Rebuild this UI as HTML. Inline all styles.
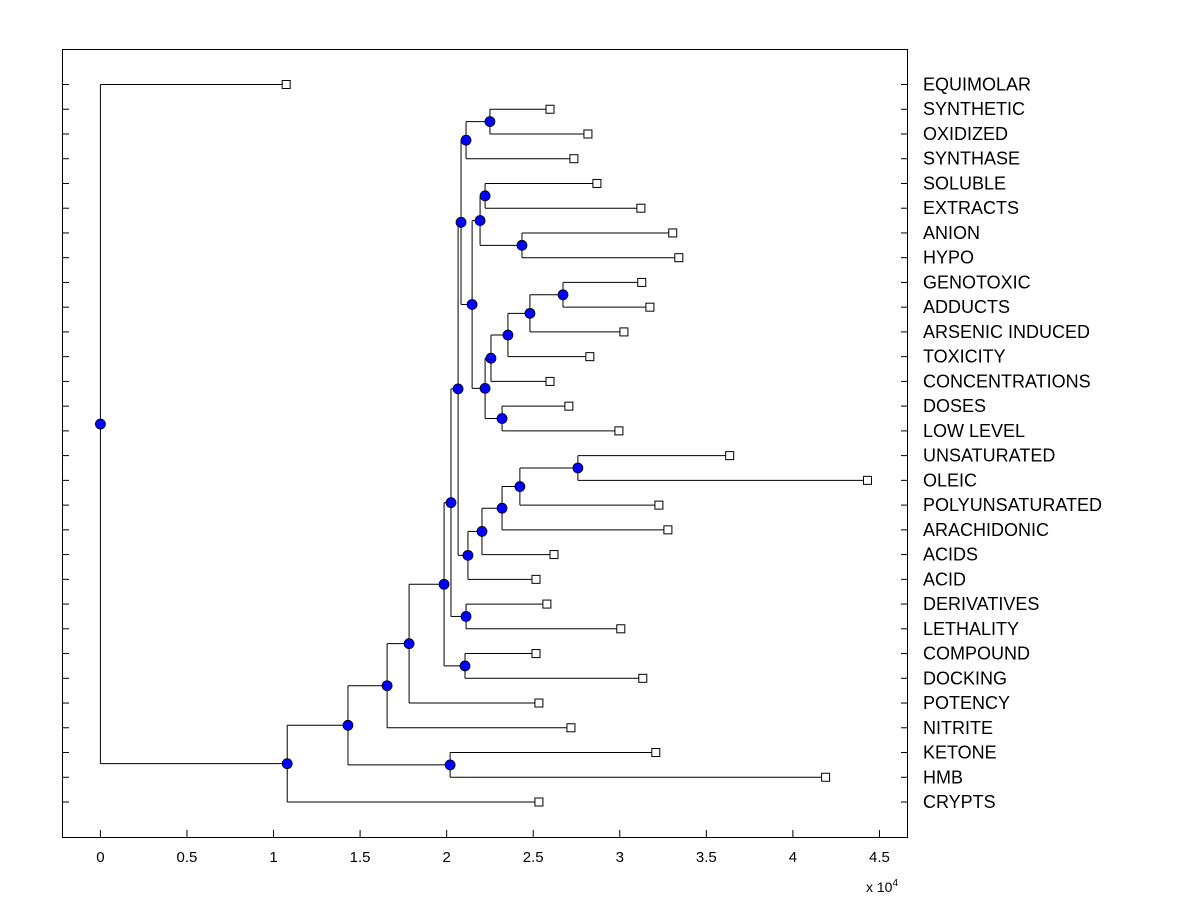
<!DOCTYPE html>
<html><head><meta charset="utf-8">
<style>
html,body{margin:0;padding:0;background:#fff;}
svg text{font-family:"Liberation Sans",Arial,sans-serif;}
</style></head>
<body>
<svg id="chart" width="1200" height="900" viewBox="0 0 1200 900" xmlns="http://www.w3.org/2000/svg">
<rect x="0" y="0" width="1200" height="900" fill="#fff"/>
<rect x="62.5" y="49.5" width="845" height="788" fill="#fff" stroke="#000" stroke-width="1"/>
<g id="ticks"></g>
<g id="links"></g>
<g id="marks"></g>
<g id="labels"></g>
<text x="866" y="892" font-size="14">x 10<tspan dy="-6" font-size="10">4</tspan></text>
</svg>
<script>
const leafNames = ["EQUIMOLAR","SYNTHETIC","OXIDIZED","SYNTHASE","SOLUBLE","EXTRACTS","ANION","HYPO","GENOTOXIC","ADDUCTS","ARSENIC INDUCED","TOXICITY","CONCENTRATIONS","DOSES","LOW LEVEL","UNSATURATED","OLEIC","POLYUNSATURATED","ARACHIDONIC","ACIDS","ACID","DERIVATIVES","LETHALITY","COMPOUND","DOCKING","POTENCY","NITRITE","KETONE","HMB","CRYPTS"];
const leafValues = [1.073,2.597,2.816,2.735,2.868,3.122,3.306,3.341,3.127,3.174,3.024,2.827,2.597,2.706,2.995,3.635,4.431,3.226,3.278,2.620,2.516,2.579,3.006,2.516,3.133,2.533,2.718,3.208,4.189,2.533];
const mergeLeft  = ["L1","N0","L4","L6","N2","L8","N5","N6","N7","L13","N8","N4","N1","L15","N13","N14","N15","N16","N12","L21","N18","L23","N20","N22","N23","L27","N24","N26","L0"];
const mergeRight = ["L2","L3","L5","L7","N3","L9","L10","L11","L12","L14","N9","N10","N11","L16","L17","L18","L19","L20","N17","L22","N19","L24","N21","L25","L26","L28","N25","L29","N27"];
const mergeHeights = [2.250,2.112,2.222,2.435,2.193,2.672,2.481,2.354,2.256,2.320,2.222,2.147,2.083,2.758,2.423,2.320,2.204,2.123,2.066,2.112,2.025,2.106,1.985,1.783,1.656,2.020,1.430,1.079,0];
const xTicks = [0,0.5,1,1.5,2,2.5,3,3.5,4,4.5];

const X0=62.5,X1=907.5,XMIN=-0.219,XMAX=4.662;
const xs=v=>X0+(v-XMIN)/(XMAX-XMIN)*(X1-X0);
const rowY=i=>84.5+i*(802-84.5)/29;
const NS="http://www.w3.org/2000/svg";
function mk(tag,parent,attrs){const e=document.createElementNS(NS,tag);for(const k in attrs)e.setAttribute(k,attrs[k]);parent.appendChild(e);return e;}
const gT=document.getElementById('ticks'),gL=document.getElementById('links'),gM=document.getElementById('marks'),gLab=document.getElementById('labels');

xTicks.forEach(t=>{
  const x=xs(t);
  const tk=mk('line',gT,{x1:x,x2:x,y1:837.5,y2:830,stroke:'#000'});
  
  
  const tt=mk('text',gT,{x:x,y:862,'font-size':'15','text-anchor':'middle'});
  tt.textContent=String(t);
  
  
});
leafNames.forEach((n,i)=>{
  const y=rowY(i);
  const tk=mk('line',gT,{x1:62.5,x2:69,y1:y,y2:y,stroke:'#000'});
  
  
  const tk2=mk('line',gT,{x1:901,x2:907.5,y1:y,y2:y,stroke:'#000'});
  
  
  const t=mk('text',gLab,{x:923,y:y+6,'font-size':'18'});
  t.textContent=n;
  
  
});

const nodes=[];
function info(ref){
  const i=+ref.slice(1);
  if(ref[0]==='L') return {x:leafValues[i],y:rowY(i)};
  return nodes[i];
}
mergeHeights.forEach((h,j)=>{
  const a=info(mergeLeft[j]),b=info(mergeRight[j]);
  nodes.push({x:h,y:(a.y+b.y)/2});
  const px=xs(h);
  [a,b].forEach(c=>{
    const l=mk('line',gL,{x1:xs(c.x),x2:px,y1:c.y,y2:c.y,stroke:'#000','stroke-width':1});
    
    
  });
  const v=mk('line',gL,{x1:px,x2:px,y1:a.y,y2:b.y,stroke:'#000','stroke-width':1});
  
  
});
leafValues.forEach((v,i)=>{
  const r=mk('rect',gM,{x:xs(v)-4,y:rowY(i)-4,width:8,height:8,fill:'#fff',stroke:'#000'});
  
  
});
nodes.forEach(n=>{
  const c=mk('circle',gM,{cx:xs(n.x),cy:n.y,r:5,fill:'#0000ff',stroke:'#000','stroke-width':0.8});
  
  
});
</script>
</body></html>
